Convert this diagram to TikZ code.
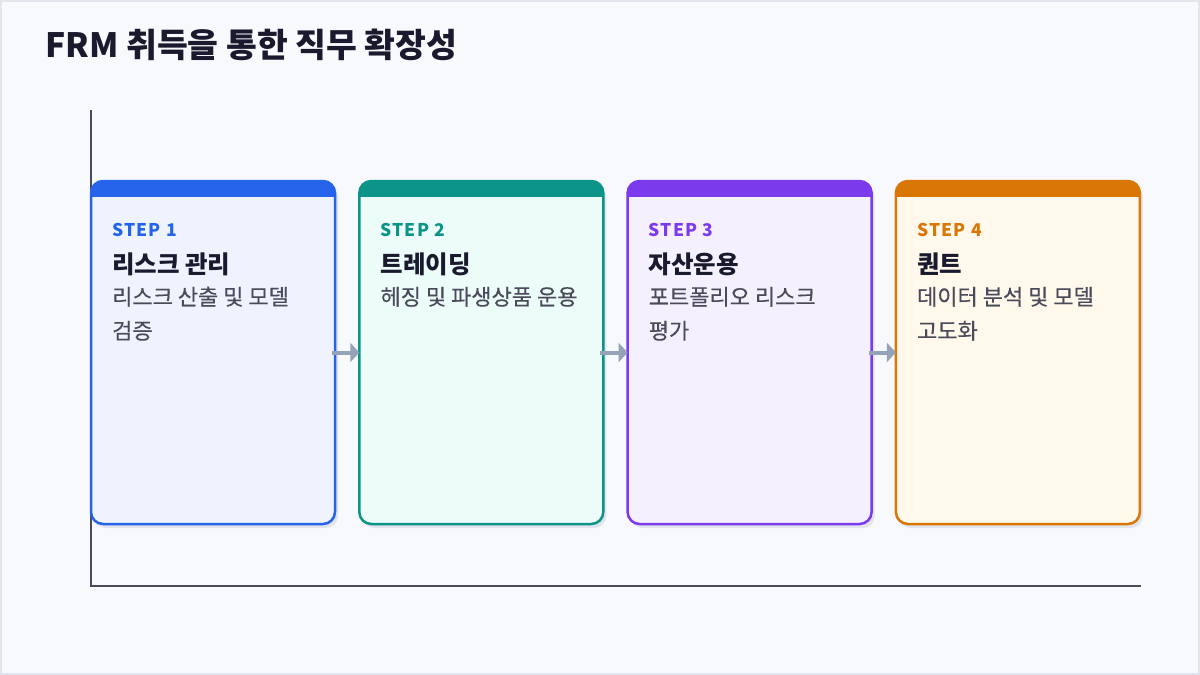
\documentclass[tikz,border=0pt]{standalone}
\usepackage{fontspec}
\setmainfont{Noto Sans CJK KR}
\newfontfamily\descfont{Noto Sans CJK KR}[FakeBold=0.35]
\usetikzlibrary{arrows.meta,shadows}
\definecolor{bg}{HTML}{F8F9FD}
\definecolor{frame}{HTML}{E2E5EC}
\definecolor{ink}{HTML}{1A1A2E}
\definecolor{gtext}{HTML}{4A4A5A}
\definecolor{axisc}{HTML}{4A4A5A}
\definecolor{arrc}{HTML}{94A3B8}
\definecolor{shadowc}{HTML}{E1E4EB}
\definecolor{cA}{HTML}{2563EB}
\definecolor{cAl}{HTML}{EEF3FD}
\definecolor{cB}{HTML}{0D9488}
\definecolor{cBl}{HTML}{ECFDF9}
\definecolor{cC}{HTML}{7C3AED}
\definecolor{cCl}{HTML}{F5F0FE}
\definecolor{cD}{HTML}{D97706}
\definecolor{cDl}{HTML}{FFF8EB}
\begin{document}
\begin{tikzpicture}[x=1pt,y=-1pt,
  card/.style={rectangle, rounded corners=12pt, line width=2.5pt,
    minimum width=244pt, minimum height=343pt, inner sep=0pt, outer sep=0pt,
    anchor=north west,
    drop shadow={shadow xshift=3pt, shadow yshift=-4pt, fill=shadowc, opacity=1}},
  steplabel/.style={anchor=base west, inner sep=0pt,
    font=\bfseries\fontsize{17.5}{20}\selectfont\addfontfeature{LetterSpace=7}},
  headlabel/.style={anchor=base west, inner sep=0pt, text=ink,
    font=\bfseries\fontsize{24.5}{28}\selectfont},
  desclabel/.style={anchor=base west, inner sep=0pt, text=gtext, align=left,
    font=\descfont\fontsize{22}{34}\selectfont},
  arr/.style={draw=arrc, line width=4pt, shorten <=-3pt,
    -{Triangle[length=9pt,width=19pt]}},
  axisline/.style={draw=axisc, line width=2pt}
]
\useasboundingbox (0,0) rectangle (1200,675);
\draw[frame, fill=bg, line width=2pt] (1,1) rectangle (1199,674);

\node[anchor=base west, inner sep=0pt, text=ink,
  font=\bfseries\fontsize{33.5}{40}\selectfont] (title) at (45,57)
  {FRM 취득을 통한 직무 확장성};

\coordinate (ytop) at (91,110);
\coordinate (orig) at (91,586);
\coordinate (xend) at (1141,586);
\draw[axisline] (ytop) -- (orig) -- (xend);

\foreach \i/\cc/\cl/\head/\desc/\dy [count=\k from 0] in {
  1/cA/cAl/{리스크 관리}/{리스크 산출 및 모델\\검증}/34,
  2/cB/cBl/{트레이딩}/{헤징 및 파생상품 운용}/0,
  3/cC/cCl/{자산운용}/{포트폴리오 리스크\\평가}/34,
  4/cD/cDl/{퀀트}/{데이터 분석 및 모델\\고도화}/34} {
  \node[card, draw=\cc, fill=\cl] (s\i) at (91+268.3*\k,181) {};
  \begin{scope}
    \clip[rounded corners=12pt] (s\i.north west) rectangle (s\i.south east);
    \fill[\cc] (s\i.north west) rectangle ([yshift=-16pt]s\i.north east);
  \end{scope}
  \node[steplabel, text=\cc] (st\i) at ([xshift=21pt,yshift=-55.7pt]s\i.north west) {STEP \i};
  \node[headlabel] (hd\i) at ([xshift=21pt,yshift=-92.5pt]s\i.north west) {\head};
  \node[desclabel] (ds\i) at ([xshift=21pt,yshift=-124pt-\dy pt]s\i.north west) {\desc};
}

\foreach \a/\b in {1/2,2/3,3/4}
  \draw[arr] (s\a.east) -- (s\b.west);
\end{tikzpicture}
\end{document}
